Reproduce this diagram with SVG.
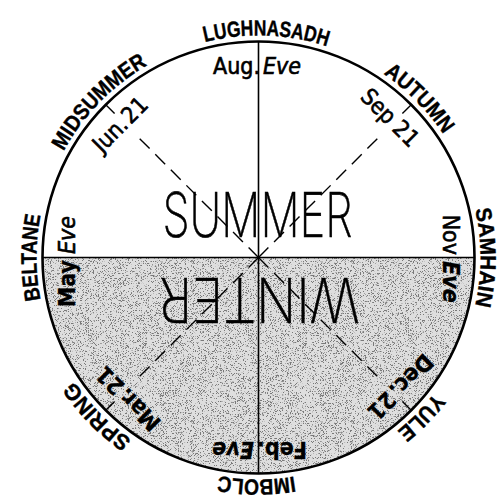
<svg xmlns="http://www.w3.org/2000/svg" width="501" height="502" viewBox="0 0 501 502">
<defs>
  <path id="arcOut" d="M 36.5 257.5 A 222 222 0 0 1 480.5 257.5" fill="none"/>
  <filter id="stip" x="0" y="0" width="1" height="1" color-interpolation-filters="sRGB">
    <feTurbulence type="fractalNoise" baseFrequency="1.6" numOctaves="1" seed="7" result="noise"/>
    <feColorMatrix in="noise" type="matrix" values="0 0 0 0 0  0 0 0 0 0  0 0 0 0 0  14 0 0 0 -7.9" result="mask"/>
    <feComposite in="SourceGraphic" in2="mask" operator="in"/>
  </filter>
</defs>
<style>
  .outer{font-family:"Liberation Sans",Arial,sans-serif;font-weight:bold;font-size:22px;fill:#000;stroke:#000;stroke-width:0.4}
  .inner{font-family:"Liberation Sans Narrow","DejaVu Sans Condensed","Liberation Sans",sans-serif;font-size:23px;fill:#000;stroke:#000;stroke-width:0.6}
  .it{font-style:italic}
  .b{font-weight:bold;stroke-width:0.3}
  .big{font-family:Inter,"Liberation Sans",sans-serif;font-weight:200;font-size:62px;fill:#000;stroke:#000;stroke-width:0.6}
  .axis{stroke:#000;stroke-width:1.6;fill:none}
  .dash{stroke:#000;stroke-width:1.4;stroke-dasharray:14 8;fill:none}
  .tick{stroke:#000;stroke-width:1.4;fill:none}
</style>
<rect width="501" height="502" fill="#fff"/>

<g id="wheel">
  <path d="M 42.5 257.5 A 216 216 0 0 0 474.5 257.5 Z" fill="#dedede"/>
  <path d="M 42.5 257.5 A 216 216 0 0 0 474.5 257.5 Z" fill="#000" filter="url(#stip)" opacity="0.45"/>
  <circle cx="258.5" cy="257.5" r="216" fill="none" stroke="#000" stroke-width="2.6"/>
</g>

<g id="connectors">
  <line class="axis" x1="258.5" y1="41.5" x2="258.5" y2="473.5"/>
  <line class="axis" x1="42.5" y1="257.5" x2="474.5" y2="257.5"/>
  <g transform="rotate(45 258.5 257.5)">
    <line class="tick" x1="258.5" y1="41.5" x2="258.5" y2="54"/>
    <line class="dash" x1="258.5" y1="257.5" x2="258.5" y2="84"/>
  </g>
  <g transform="rotate(135 258.5 257.5)">
    <line class="tick" x1="258.5" y1="41.5" x2="258.5" y2="54"/>
    <line class="dash" x1="258.5" y1="257.5" x2="258.5" y2="84"/>
  </g>
  <g transform="rotate(225 258.5 257.5)">
    <line class="tick" x1="258.5" y1="41.5" x2="258.5" y2="54"/>
    <line class="dash" x1="258.5" y1="257.5" x2="258.5" y2="84"/>
  </g>
  <g transform="rotate(315 258.5 257.5)">
    <line class="tick" x1="258.5" y1="41.5" x2="258.5" y2="54"/>
    <line class="dash" x1="258.5" y1="257.5" x2="258.5" y2="84"/>
  </g>
</g>

<g id="seasons">
  <text class="big" x="257.5" y="237" text-anchor="middle" textLength="190" lengthAdjust="spacingAndGlyphs">SUMMER</text>
  <text class="big" x="257.5" y="237" text-anchor="middle" textLength="200" lengthAdjust="spacingAndGlyphs" transform="rotate(180 258.5 257.5)">WINTER</text>
</g>

<g id="festivals">
  <g id="lughnasadh" transform="rotate(2 258.5 257.5)"><text class="outer"><textPath href="#arcOut" startOffset="50%" text-anchor="middle" textLength="124" lengthAdjust="spacingAndGlyphs">LUGHNASADH</textPath></text></g>
  <g id="autumn" transform="rotate(45.3 258.5 257.5)"><text class="outer"><textPath href="#arcOut" startOffset="50%" text-anchor="middle" textLength="86" lengthAdjust="spacingAndGlyphs">AUTUMN</textPath></text></g>
  <g id="samhain" transform="rotate(90 258.5 257.5)"><text class="outer"><textPath href="#arcOut" startOffset="50%" text-anchor="middle" textLength="97" lengthAdjust="spacingAndGlyphs">SAMHAIN</textPath></text></g>
  <g id="yule" transform="rotate(134.5 258.5 257.5)"><text class="outer"><textPath href="#arcOut" startOffset="50%" text-anchor="middle" textLength="54" lengthAdjust="spacingAndGlyphs">YULE</textPath></text></g>
  <g id="imbolc" transform="rotate(180.5 258.5 257.5)"><text class="outer"><textPath href="#arcOut" startOffset="50%" text-anchor="middle" textLength="76" lengthAdjust="spacingAndGlyphs">IMBOLC</textPath></text></g>
  <g id="spring" transform="rotate(225.5 258.5 257.5)"><text class="outer"><textPath href="#arcOut" startOffset="50%" text-anchor="middle" textLength="83" lengthAdjust="spacingAndGlyphs">SPRING</textPath></text></g>
  <g id="beltane" transform="rotate(270 258.5 257.5)"><text class="outer"><textPath href="#arcOut" startOffset="50%" text-anchor="middle" textLength="85" lengthAdjust="spacingAndGlyphs">BELTANE</textPath></text></g>
  <g id="midsummer" transform="rotate(314.3 258.5 257.5)"><text class="outer"><textPath href="#arcOut" startOffset="50%" text-anchor="middle" textLength="122" lengthAdjust="spacingAndGlyphs">MIDSUMMER</textPath></text></g>
</g>

<g id="dates">
  <g id="aug-eve" transform="rotate(0 258.5 257.5)">
    <text class="inner" x="260" y="73.5" text-anchor="end">Aug.</text>
    <text class="inner it" x="263" y="73.5">Eve</text>
  </g>
  <g id="sep-21" transform="rotate(45 258.5 257.5)">
    <text class="inner" x="256" y="73.5" text-anchor="end">Sep</text>
    <text class="inner" x="262" y="73.5">21</text>
  </g>
  <g id="nov-eve" transform="rotate(90 258.5 257.5)">
    <text class="inner" x="256" y="73.5" text-anchor="end">Nov</text>
    <text class="inner it b" x="262" y="73.5">Eve</text>
  </g>
  <g id="dec-21" transform="rotate(135 258.5 257.5)">
    <text class="inner b" x="260" y="73.5" text-anchor="end">Dec.</text>
    <text class="inner b" x="262" y="73.5">21</text>
  </g>
  <g id="feb-eve" transform="rotate(180 258.5 257.5)">
    <text class="inner b" x="260" y="73.5" text-anchor="end">Feb.</text>
    <text class="inner it b" x="263" y="73.5">Eve</text>
  </g>
  <g id="mar-21" transform="rotate(225 258.5 257.5)">
    <text class="inner b" x="260" y="73.5" text-anchor="end">Mar.</text>
    <text class="inner b" x="262" y="73.5">21</text>
  </g>
  <g id="may-eve" transform="rotate(270 258.5 257.5)">
    <text class="inner b" x="256" y="73.5" text-anchor="end">May</text>
    <text class="inner it" x="262" y="73.5">Eve</text>
  </g>
  <g id="jun-21" transform="rotate(315 258.5 257.5)">
    <text class="inner" x="260" y="73.5" text-anchor="end">Jun.</text>
    <text class="inner" x="262" y="73.5">21</text>
  </g>
</g>
</svg>
